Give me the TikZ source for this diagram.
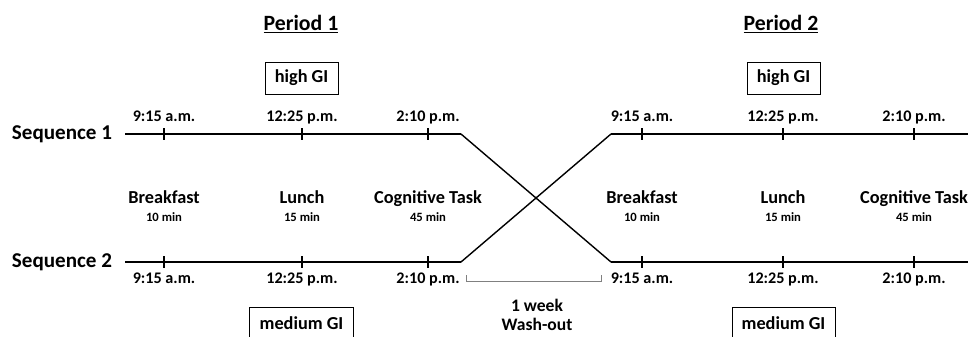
\documentclass[tikz,border=0pt]{standalone}
\usepackage{fontspec}
\setmainfont{Carlito}
\usepackage{xcolor}
\usepackage{tikz}
\usetikzlibrary{positioning, calc}

\begin{document}
\begin{tikzpicture}[
   x=0.025cm, y=-0.025cm,
   font=\bfseries,
   seqlabel/.style = {font=\fontsize{15}{17}\selectfont\bfseries},
   periodlabel/.style = {font=\fontsize{15.5}{18}\selectfont\bfseries},
   timelabel/.style = {font=\fontsize{11.5}{13}\selectfont\bfseries, inner sep=1pt, text height=8pt, text depth=2.5pt},
   meal/.style = {font=\fontsize{13}{15}\selectfont\bfseries, inner sep=1pt, text height=9pt, text depth=3pt},
   duration/.style = {font=\fontsize{9}{10}\selectfont\bfseries, inner sep=1pt},
   washtext/.style = {font=\fontsize{12.5}{14}\selectfont\bfseries, inner sep=1pt, align=center},
   gibox/.style = {draw, rectangle, line width=0.7pt, minimum height=0.8cm, font=\fontsize{13}{15}\selectfont\bfseries},
   tick/.style = {fill=black, inner sep=0pt, minimum width=1.8pt, minimum height=9pt},
   seqline/.style = {draw, line width=1.3pt},
   cross/.style = {draw, line width=1pt},
   bracket/.style = {draw, gray, line width=0.5pt}
   ]
  \useasboundingbox (0,0) rectangle (968,336);

  % Sequence labels
  \node[seqlabel] (seq1) at (62,134) {Sequence 1};
  \node[seqlabel] (seq2) at (62,262) {Sequence 2};

  % Period headings
  \node[periodlabel] (period1) at (301,24) {\underline{Period 1}};
  \node[periodlabel] (period2) at (781,24) {\underline{Period 2}};

  % Line end points
  \coordinate (s1start) at (125,134);
  \coordinate (s1bend) at (461,134);
  \coordinate (s1turn) at (611,262);
  \coordinate (s1stop) at (968,262);
  \coordinate (s2start) at (125,262);
  \coordinate (s2bend) at (461,262);
  \coordinate (s2turn) at (611,134);
  \coordinate (s2stop) at (968,134);

  % Sequence lines
  \draw[seqline] (s1start) -- (s1bend);
  \draw[cross] (s1bend) -- (s1turn);
  \draw[seqline] (s1turn) -- (s1stop);
  \draw[seqline] (s2start) -- (s2bend);
  \draw[cross] (s2bend) -- (s2turn);
  \draw[seqline] (s2turn) -- (s2stop);

  % Ticks with times
  \foreach \x/\n/\t in {164/a/9:15 a.m., 302/b/12:25 p.m., 428/c/2:10 p.m.,
                        642/d/9:15 a.m., 783/e/12:25 p.m., 914/f/2:10 p.m.} {
    \node[tick] (up\n) at (\x,134) {};
    \node[tick] (lo\n) at (\x,262) {};
    \node[timelabel] (uptime\n) at (\x,118) {\t};
    \node[timelabel] (lotime\n) at (\x,280) {\t};
  }

  % Meals and task
  \foreach \x/\n/\m/\d in {164/a/Breakfast/10 min, 302/b/Lunch/15 min, 428/c/Cognitive Task/45 min,
                           642/d/Breakfast/10 min, 783/e/Lunch/15 min, 914/f/Cognitive Task/45 min} {
    \node[meal] (meal\n) at (\x,199) {\m};
    \node[duration, below=1pt of meal\n] (dur\n) {\d};
  }

  % GI boxes
  \node[gibox, minimum width=1.825cm] (high1) at (301.5,78) {high GI};
  \node[gibox, minimum width=1.825cm] (high2) at (783.5,78) {high GI};
  \node[gibox, minimum width=2.575cm] (medium1) at (301.5,323) {medium GI};
  \node[gibox, minimum width=2.575cm] (medium2) at (783.5,323) {medium GI};

  % Wash-out bracket
  \coordinate (washl) at (466,281);
  \coordinate (washr) at (601,281);
  \draw[bracket] ($(washl)+(0,-6)$) -- (washl) -- (washr) -- ($(washr)+(0,-6)$);
  \node[washtext] (washout) at (537,315) {1 week\\Wash-out};
\end{tikzpicture}
\end{document}
